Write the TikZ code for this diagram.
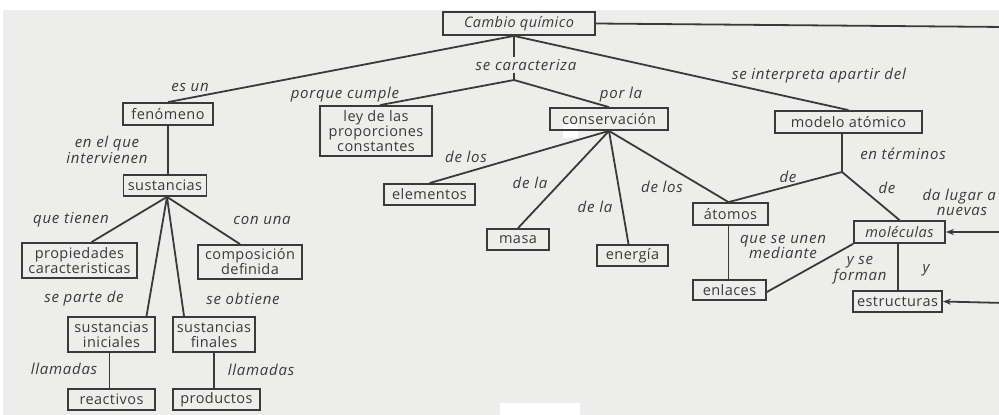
\documentclass[tikz,border=0pt]{standalone}
\usepackage{fontspec}
\setmainfont{Open Sans}
\newfontfamily\labfont[LetterSpace=5]{Open Sans}
\newfontfamily\boxfont[LetterSpace=3]{Open Sans}
\usetikzlibrary{arrows.meta}
\definecolor{bg}{HTML}{EDEDEB}
\definecolor{ink}{HTML}{3A3A3A}
\begin{document}
\begin{tikzpicture}[x=1pt,y=-1pt,
  box/.style={draw=ink,line width=1.8pt,text=ink,inner sep=1pt,align=center,font=\boxfont\fontsize{14.5}{15}\selectfont},
  lab/.style={text=ink,inner sep=1pt,align=center,font=\labfont\fontsize{15}{15.5}\selectfont\itshape},
  con/.style={draw=ink,line width=1.8pt},
  arr/.style={con,-{Stealth[length=8pt,width=6pt]}}]
\useasboundingbox (0,0) rectangle (999,415);
\fill[white] (0,0) rectangle (999,415);
\fill[bg] (3,10) rectangle (999,415);
\fill[white] (563,124) rectangle (578,138);
\fill[white] (500,403) rectangle (580,415);
\clip (0,0) rectangle (999,415);
% nodes
\node[box,minimum width=152pt,minimum height=23pt,font=\boxfont\fontsize{14.5}{15}\selectfont\itshape] (cambio) at (519,23.5) {Cambio químico};
\node[box,minimum width=90pt,minimum height=22pt] (fen) at (168,114) {fenómeno};
\node[box,minimum width=112pt,minimum height=50pt] (ley) at (376,131) {ley de las\\proporciones\\constantes};
\node[box,minimum width=118pt,minimum height=22pt] (cons) at (609,119) {conservación};
\node[box,minimum width=147pt,minimum height=22pt] (modelo) at (848.5,122) {modelo atómico};
\node[box,minimum width=83pt,minimum height=21pt] (sust) at (165,185.5) {sustancias};
\node[box,minimum width=115pt,minimum height=35pt] (prop) at (79.5,260.5) {propiedades\\caracteristicas};
\node[box,minimum width=104pt,minimum height=34pt] (comp) at (250,262) {composición\\definida};
\node[box,minimum width=87pt,minimum height=35pt] (ini) at (111.5,334.5) {sustancias\\iniciales};
\node[box,minimum width=82pt,minimum height=35pt] (fin) at (214,334.5) {sustancias\\finales};
\node[box,minimum width=87pt,minimum height=21pt] (react) at (111.5,399.5) {reactivos};
\node[box,minimum width=87pt,minimum height=21pt] (prod) at (216.5,399.5) {productos};
\node[box,minimum width=91pt,minimum height=21pt] (elem) at (429.5,194.5) {elementos};
\node[box,minimum width=62pt,minimum height=21pt] (masa) at (518,239.5) {masa};
\node[box,minimum width=71pt,minimum height=21pt] (energ) at (632.5,255.5) {energía};
\node[box,minimum width=75pt,minimum height=22pt] (atom) at (730.5,214) {átomos};
\node[box,minimum width=73pt,minimum height=20pt] (enl) at (729.5,290) {enlaces};
\node[box,minimum width=91pt,minimum height=22pt,font=\boxfont\fontsize{14.5}{15}\selectfont\itshape] (mol) at (899.5,232) {moléculas};
\node[box,minimum width=89pt,minimum height=21pt] (estr) at (897.5,301.5) {estructuras};
% coordinates
\coordinate (c1) at (514,80);
\coordinate (m1) at (842,172);
\coordinate (r0) at (1005,27);
\coordinate (r1) at (1005,232);
\coordinate (r2) at (1005,303);
% connectors
\draw[con] ([xshift=-5pt]cambio.south) -- (fen.north);
\draw[con] ([xshift=-5pt]cambio.south) -- (modelo.north);
\draw[con] ([xshift=-5pt]cambio.south) -- (c1);
\draw[con] (c1) -- ([xshift=4pt]ley.north);
\draw[con] (c1) -- (cons.north);
\draw[con] (cambio.east) -- (r0);
\draw[con] (fen.south) -- (fen.south |- sust.north);
\draw[con] ([xshift=2pt]sust.south) -- ([xshift=12pt]prop.north);
\draw[con] ([xshift=2pt]sust.south) -- ([xshift=-10pt]comp.north);
\draw[con] ([xshift=2pt]sust.south) -- ([xshift=35pt]ini.north);
\draw[con] ([xshift=2pt]sust.south) -- ([xshift=-30pt]fin.north);
\draw[con] ([xshift=-2pt]ini.south) -- ([xshift=-2pt]react.north);
\draw[con] (fin.south) -- (fin.south |- prod.north);
\draw[con] (cons.south) -- (elem.north);
\draw[con] (cons.south) -- (masa.north);
\draw[con] (cons.south) -- ([xshift=-4pt]energ.north);
\draw[con] (cons.south) -- ([xshift=-2pt]atom.north);
\draw[con] ([xshift=-6.5pt]modelo.south) -- (m1);
\draw[con] (m1) -- ([xshift=-2pt]atom.north);
\draw[con] (m1) -- (mol.north);
\draw[con] ([xshift=-2pt]atom.south) -- ([xshift=-2pt]atom.south |- enl.north);
\draw[con] ([yshift=-2pt]enl.east) -- (mol.south west);
\draw[con] ([xshift=-1.5pt]mol.south) -- ([xshift=-1.5pt]mol.south |- estr.north);
\draw[arr] (r1) -- (mol.east);
\draw[arr] (r2) -- (estr.east);
% labels
\node[lab] (l1) at (190,87) {es un};
\node[lab] (l2) at (345,95) {porque cumple};
\node[lab,fill=bg,inner sep=2pt] (l3) at (526,65) {se caracteriza};
\node[lab] (l4) at (621,95) {por la};
\node[lab] (l5) at (819,76) {se interpreta apartir del};
\node[lab] (l6) at (107,150) {en el que\\intervienen};
\node[lab] (l7) at (71,220) {que tienen};
\node[lab] (l8) at (262,220) {con una};
\node[lab] (l9) at (84,299) {se parte de};
\node[lab] (l10) at (243,299) {se obtiene};
\node[lab] (l11) at (64,369) {llamadas};
\node[lab] (l12) at (261,370) {llamadas};
\node[lab] (l13) at (466,157) {de los};
\node[lab] (l14) at (530,183) {de la};
\node[lab] (l15) at (595,207) {de la};
\node[lab] (l16) at (662,187) {de los};
\node[lab] (l17) at (903,154) {en términos};
\node[lab] (l18) at (788,177) {de};
\node[lab] (l19) at (887,188) {de};
\node[lab,anchor=east] (l20) at (997,197) {da lugar a};
\node[lab] (l21) at (962,211) {nuevas};
\node[lab] (l22) at (783,247) {que se unen\\mediante};
\node[lab] (l23) at (860,270) {y se\\forman};
\node[lab] (l24) at (926,270) {y};
\end{tikzpicture}
\end{document}
